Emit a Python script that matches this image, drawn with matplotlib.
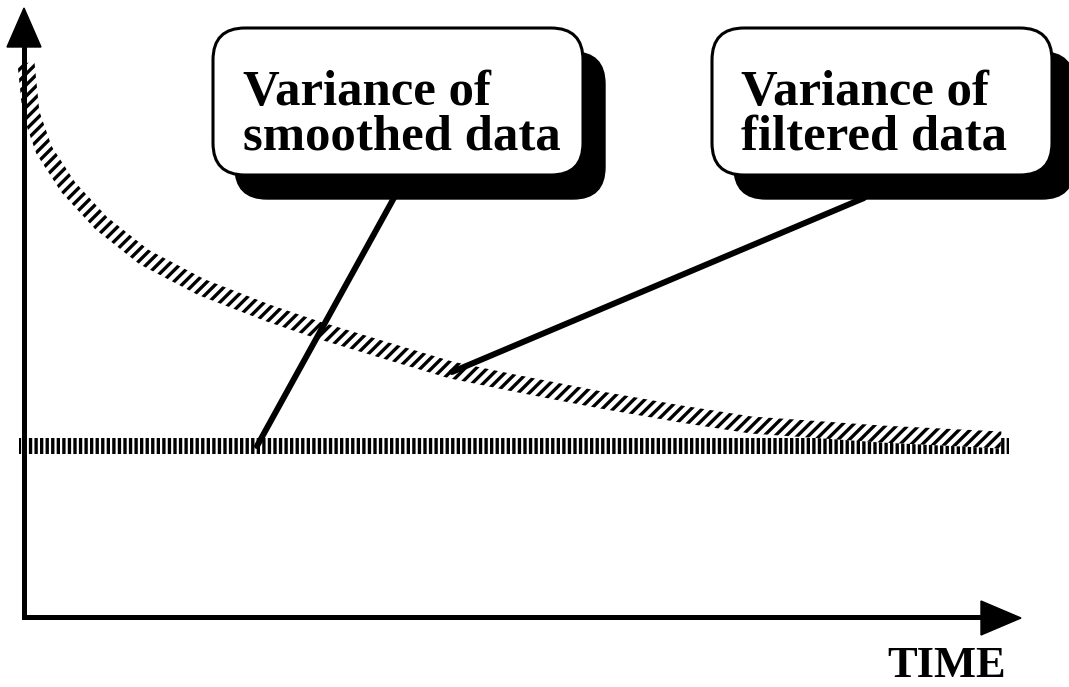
import numpy as np
import matplotlib
matplotlib.use('Agg')
import matplotlib.pyplot as plt
from matplotlib.patches import Polygon, FancyBboxPatch
from matplotlib.transforms import Affine2D

# --- data (schematic, arbitrary units) ---
time_filtered = np.array([0.02, 0.07, 0.20, 0.44, 0.77, 1.20, 1.77, 2.44, 2.94,
                          3.60, 4.27, 4.90, 5.77, 6.57, 7.27, 8.57, 9.77])
var_filtered = np.array([5.54, 5.04, 4.67, 4.30, 3.94, 3.60, 3.30, 3.04, 2.87,
                         2.67, 2.47, 2.34, 2.17, 2.03, 1.92, 1.83, 1.77])
time_smoothed = np.array([-0.05, 9.85])
var_smoothed = np.array([1.71, 1.71])

label_smoothed = 'Variance of\nsmoothed data'
label_filtered = 'Variance of\nfiltered data'
label_time = 'TIME'
# points the leader lines touch (data units)
tip_smoothed = (2.33, 1.71)
tip_filtered = (4.28, 2.45)

W, H = 1069, 687
plt.rcParams['hatch.linewidth'] = 2.4

fig = plt.figure(figsize=(W / 100, H / 100), dpi=100)
ax = fig.add_axes([0, 0, 1, 1])
# origin of the drawing sits at pixel (24, 617); 100 px per unit
ax.set_xlim(-0.24, (W - 24) / 100)
ax.set_ylim(-(H - 617) / 100, 617 / 100)
ax.axis('off')

# pixel transform, origin top-left
px = Affine2D().scale(1, -1).translate(0, H)

# filtered variance: hatched band following the curve
half = 0.085
dx = np.gradient(time_filtered)
dy = np.gradient(var_filtered)
nrm = np.hypot(dx, dy)
nx, ny = -dy / nrm, dx / nrm
upper = np.column_stack([time_filtered + half * nx, var_filtered + half * ny])
lower = np.column_stack([time_filtered - half * nx, var_filtered - half * ny])
band = Polygon(np.vstack([upper, lower[::-1]]), closed=True, facecolor='white',
               edgecolor='black', hatch='///', lw=0, zorder=3)
ax.add_patch(band)

# smoothed variance: flat hatched band
ax.fill_between(time_smoothed, var_smoothed - 0.078, var_smoothed + 0.078,
                facecolor='none', edgecolor='black', hatch='|||', lw=0, zorder=2)

# axes with arrow heads
ax.plot([24, 24, 985], [47, 617, 617], color='black', lw=3.6,
        solid_joinstyle='miter', transform=px, zorder=4)
ax.add_patch(Polygon([(7, 47), (41, 47), (24, 8)], closed=True, color='black',
                     transform=px, zorder=4))
ax.add_patch(Polygon([(981, 601), (981, 635), (1021, 618)], closed=True,
                     color='black', transform=px, zorder=4))

# callout boxes with drop shadow
for (x0, y0, x1, y1), txt, tx in [((213, 28, 583, 175), label_smoothed, 243),
                                  ((712, 28, 1052, 175), label_filtered, 741)]:
    shadow = FancyBboxPatch((x0 + 22, y0 + 24), x1 - x0, y1 - y0,
                            boxstyle='round,pad=0,rounding_size=32',
                            facecolor='black', edgecolor='black', lw=1,
                            transform=px, zorder=6)
    box = FancyBboxPatch((x0, y0), x1 - x0, y1 - y0,
                         boxstyle='round,pad=0,rounding_size=32',
                         facecolor='white', edgecolor='black', lw=2.2,
                         transform=px, zorder=7)
    ax.add_patch(shadow)
    ax.add_patch(box)
    # baseline of the second line
    ax.text(tx, 150, txt, transform=px, ha='left', va='baseline',
            multialignment='left', fontsize=36.5, fontweight='bold',
            family='Liberation Serif', linespacing=0.96, zorder=8)

# leader lines
ax.annotate('', xy=tip_smoothed, xycoords='data', xytext=(395, 196),
            textcoords=px, zorder=5,
            arrowprops=dict(arrowstyle='-', lw=4.3, color='black',
                            shrinkA=0, shrinkB=0))
ax.annotate('', xy=tip_filtered, xycoords='data', xytext=(864, 198),
            textcoords=px, zorder=5,
            arrowprops=dict(arrowstyle='-', lw=4.3, color='black',
                            shrinkA=0, shrinkB=0))

ax.text(1006, 686, label_time, transform=px, ha='right', va='bottom',
        fontsize=32, fontweight='bold', family='Liberation Serif')

fig.savefig('out.png', dpi=100)
